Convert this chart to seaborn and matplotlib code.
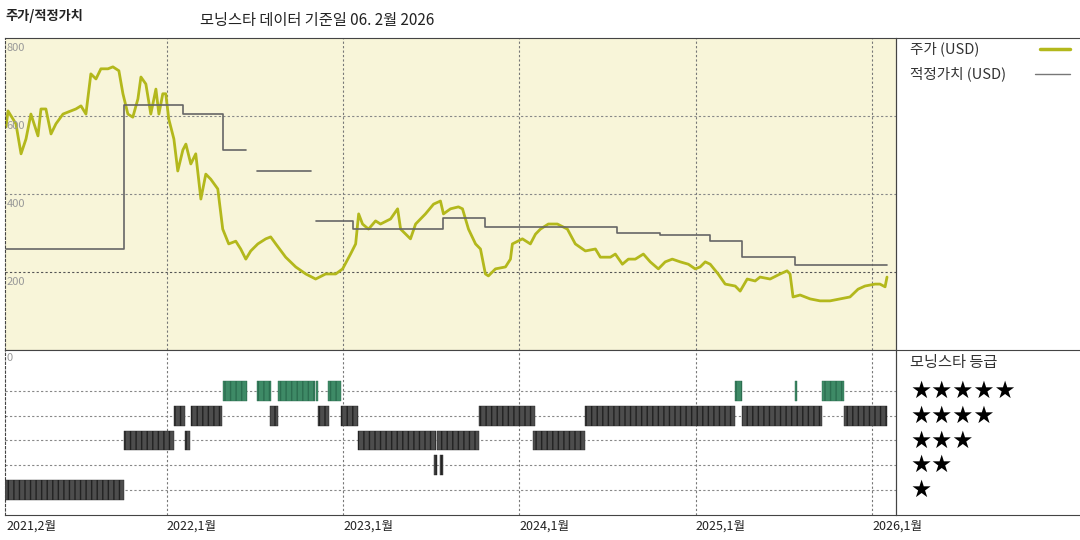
import numpy as np
import pandas as pd
import matplotlib
matplotlib.use("Agg")
import matplotlib.pyplot as plt
import seaborn as sns

sns.set_theme(style="white")
plt.rcParams['font.family'] = ['Noto Sans CJK KR', 'DejaVu Sans']

price_t = [2021.088,2021.099,2021.144,2021.173,2021.201,2021.229,2021.269,2021.286,2021.314,2021.343,
 2021.371,2021.411,2021.456,2021.484,2021.513,2021.541,2021.569,2021.598,2021.626,2021.666,2021.694,
 2021.728,2021.751,2021.779,2021.807,2021.836,2021.853,2021.881,2021.909,2021.938,2021.955,2021.977,
 2021.994,2022.011,2022.040,2022.062,2022.091,2022.108,2022.136,2022.164,2022.193,2022.221,2022.249,
 2022.289,2022.317,2022.351,2022.391,2022.419,2022.448,2022.476,2022.516,2022.561,2022.589,2022.618,
 2022.674,2022.731,2022.788,2022.844,2022.901,2022.958,2022.997,2023.042,2023.071,2023.088,2023.110,
 2023.144,2023.184,2023.212,2023.269,2023.309,2023.326,2023.382,2023.411,2023.467,2023.513,2023.552,
 2023.569,2023.609,2023.654,2023.677,2023.711,2023.751,2023.779,2023.807,2023.824,2023.864,2023.921,
 2023.949,2023.960,2024.017,2024.062,2024.091,2024.119,2024.164,2024.215,2024.272,2024.317,2024.374,
 2024.431,2024.459,2024.516,2024.544,2024.584,2024.618,2024.657,2024.703,2024.742,2024.788,2024.827,
 2024.867,2024.912,2024.958,2024.997,2025.025,2025.054,2025.082,2025.127,2025.167,2025.224,2025.252,
 2025.292,2025.337,2025.365,2025.422,2025.479,2025.518,2025.535,2025.552,2025.592,2025.649,2025.705,
 2025.762,2025.819,2025.875,2025.921,2025.960,2026.017,2026.045,2026.074,2026.085]
price_v = [572,613,580,503,541,605,549,618,618,554,
 580,605,613,618,626,605,708,695,721,721,726,
 716,657,605,597,644,700,682,605,669,605,657,
 657,592,541,459,513,528,477,503,387,451,438,
 413,310,272,279,259,233,254,272,285,290,272,
 238,213,195,182,195,195,208,246,272,349,323,
 310,331,323,336,362,310,285,323,349,374,382,
 349,362,367,362,310,272,259,195,190,208,213,
 233,272,285,272,297,310,323,323,310,272,254,
 259,238,238,246,220,233,233,246,226,208,226,
 233,226,220,208,213,226,220,195,169,164,151,
 182,177,187,182,195,203,195,136,141,131,126,
 126,131,136,156,164,169,169,162,187]

fair_t = [2021.088,2021.756,2022.091,2022.317,2022.448,2022.510,2022.816,2022.844,2023.054,2023.564,
 2023.807,2024.555,2024.799,2025.082,2025.263,2025.564,2026.085]
fair_v = [259,628,605,513,np.nan,459,np.nan,331,310,338,315,300,295,279,238,218,218]

rating_levels = [5,4,3,2,1]
rating_segments = {
 5: [(2022.317,2022.453),(2022.510,2022.589),(2022.629,2022.839),(2022.844,2022.856),(2022.912,2022.986),
     (2025.224,2025.263),(2025.564,2025.575),(2025.717,2025.841)],
 4: [(2022.040,2022.102),(2022.136,2022.312),(2022.584,2022.629),(2022.856,2022.918),(2022.986,2023.082),
     (2023.773,2024.091),(2024.374,2025.224),(2025.263,2025.717),(2025.841,2026.085)],
 3: [(2021.756,2022.040),(2022.102,2022.130),(2023.082,2023.524),(2023.535,2023.773),(2024.079,2024.374)],
 2: [(2023.518,2023.530),(2023.552,2023.564)],
 1: [(2021.082,2021.756)],
}
y_ticks = [200,400,600,800]
x_ticks = [2021.088,2022,2023,2024,2025,2026]
x_labels = ["2021,2월","2022,1월","2023,1월","2024,1월","2025,1월","2026,1월"]

fig = plt.figure(figsize=(10.8,5.4), dpi=100)
L, R = 5/1080, 896/1080
ax = fig.add_axes([L, 1-350/540, R-L, (350-38)/540])
ax2 = fig.add_axes([L, 1-515/540, R-L, (515-350)/540])
xmin, xmax = 2021.082, 2022+(896-166)/176.5

ax.set_facecolor('#f8f5d9')
df = pd.DataFrame({'t':price_t,'v':price_v})
sns.lineplot(data=df, x='t', y='v', ax=ax, color='#b3b81c', lw=2.0)
ax.step(fair_t, fair_v, where='post', color='#666666', lw=1.2)
ax.set_xlim(xmin, xmax); ax.set_ylim(0, 800)
for a in (ax, ax2):
    for yr in x_ticks[1:]:
        a.axvline(yr, color='#777777', ls=(0,(2,2)), lw=0.8, zorder=0)
    a.set_xticks([]); a.set_yticks([]); a.set_xlabel(''); a.set_ylabel('')
    for s in a.spines.values():
        s.set_color('#444444'); s.set_linewidth(0.8)
    a.spines['left'].set_linestyle((0,(2,2)))
for yv in y_ticks[:3]:
    ax.axhline(yv, color='#555555' if yv==200 else '#888888', ls=(0,(2,2)), lw=0.8, zorder=0)
for yv in y_ticks:
    ax.text(xmin+0.01, yv-12, str(yv), color='#999999', fontsize=8, va='top', ha='left')

ax2.set_xlim(xmin, xmax); ax2.set_ylim(0, 6.64)
for r in rating_levels:
    ax2.axhline(r, color='#888888', ls=(0,(2,2)), lw=0.8, zorder=0)
    fc = '#3e8a66' if r == 5 else '#4d4d4d'
    segs = [(a, b-a) for a, b in rating_segments[r]]
    ax2.broken_barh(segs, (r-0.4, 0.8), facecolors=fc, edgecolors='#222222' if r<5 else '#2c6e50',
                    hatch='|||', linewidth=0.3, zorder=3)
ax2.text(xmin+0.01, 6.5, "0", color='#999999', fontsize=8, va='top', ha='left')
for t, lab in zip(x_ticks, x_labels):
    fig.text(L + (t-xmin)/(xmax-xmin)*(R-L), 1-520/540, lab,
             fontsize=9, va='top', ha='left', color='#222222')

for yy in (38, 350, 515):
    fig.add_artist(plt.Line2D([R, 1.0], [1-yy/540]*2, color='#444444', lw=0.8))
fig.add_artist(plt.Line2D([R, R], [1-38/540, 1-515/540], color='#444444', lw=0.8))

fig.text(5/1080, 1-16/540, "주가/적정가치", fontsize=9.5, fontweight='bold', va='center', color='#222222')
fig.text(200/1080, 1-20/540, "모닝스타 데이터 기준일 06. 2월 2026", fontsize=11, va='center', color='#222222')
fig.text(910/1080, 1-49/540, "주가 (USD)", fontsize=10.5, va='center', color='#333333')
fig.add_artist(plt.Line2D([1040/1080, 1070/1080], [1-49/540]*2, color='#b3b81c', lw=2.5))
fig.text(910/1080, 1-74/540, "적정가치 (USD)", fontsize=10.5, va='center', color='#333333')
fig.add_artist(plt.Line2D([1035/1080, 1070/1080], [1-74/540]*2, color='#777777', lw=1))
fig.text(910/1080, 1-363/540, "모닝스타 등급", fontsize=11, va='center', color='#333333')
for i, r in enumerate(rating_levels):
    fig.text(910/1080, 1-(391+i*24.7)/540, "★"*r, fontsize=17, va='center', color='black',
             family=['DejaVu Sans'])

fig.savefig("out.png", dpi=100)
